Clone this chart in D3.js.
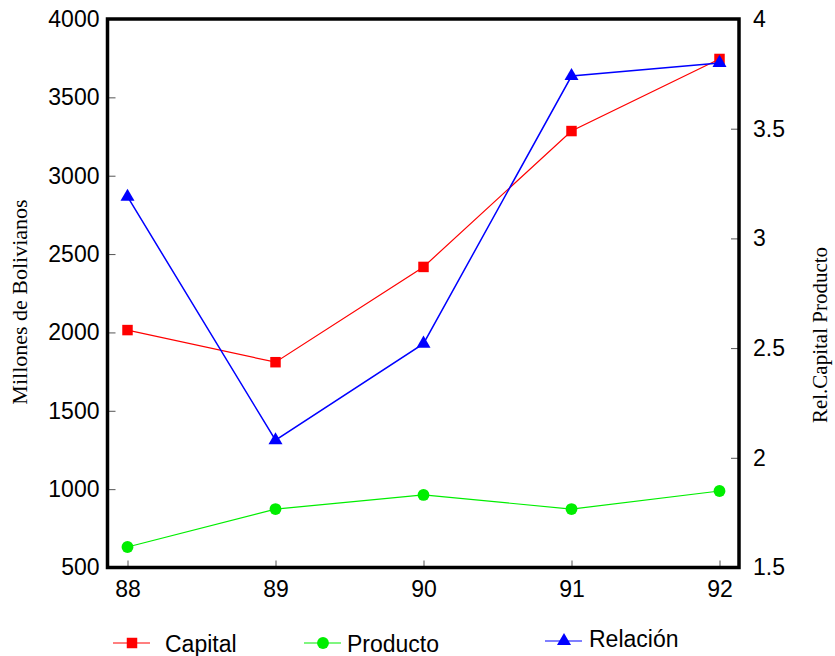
<!DOCTYPE html>
<html><head><meta charset="utf-8">
<script src="https://cdn.jsdelivr.net/npm/d3@7"></script>
<style>body{margin:0;background:#fff}svg{display:block}</style>
</head><body>
<script>
const years = ["88","89","90","91","92"];
const capital = [2015, 1810, 2418, 3285, 3745];
const producto = [631, 873, 963, 873, 988];
const relacion = [3.19, 2.08, 2.52, 3.74, 3.80];
const leftTicks = [500,1000,1500,2000,2500,3000,3500,4000];
const rightTicks = [1.5,2,2.5,3,3.5,4];

const W=835,H=656;
const svg=d3.select("body").append("svg").attr("width",W).attr("height",H);
const fL=107.5,fR=739,fT=19,fB=567.5;
const x=d3.scalePoint().domain(years).range([127.5,719.5]);
const yL=d3.scaleLinear().domain([500,4000]).range([fB,fT]);
const yR=d3.scaleLinear().domain([1.5,4]).range([fB,fT]);
const font="Liberation Sans, Arial, sans-serif";

const gl=svg.append("g").attr("transform",`translate(${fL},0)`)
 .call(d3.axisLeft(yL).tickValues(leftTicks).tickFormat(d=>String(d)).tickSizeInner(-8).tickSizeOuter(0).tickPadding(8));
const gr=svg.append("g").attr("transform",`translate(${fR},0)`)
 .call(d3.axisRight(yR).tickValues(rightTicks).tickFormat(d=>String(d)).tickSizeInner(-8).tickSizeOuter(0).tickPadding(14));
const gx=svg.append("g").attr("transform",`translate(0,${fB})`)
 .call(d3.axisBottom(x).tickSizeInner(-7).tickSizeOuter(0).tickPadding(13));
[gl,gr,gx].forEach(g=>{
  g.select(".domain").remove();
  g.selectAll(".tick line").attr("stroke","#555").attr("stroke-width",1);
  g.selectAll("text").attr("font-family",font).attr("font-size",23).attr("fill","#000");
});
gl.selectAll(".tick").filter(d=>d===500||d===4000).select("line").remove();
gr.selectAll(".tick").filter(d=>d===1.5||d===4).select("line").remove();

svg.append("rect").attr("x",fL).attr("y",fT).attr("width",fR-fL).attr("height",fB-fT)
 .attr("fill","none").attr("stroke","#000").attr("stroke-width",3.5);

function series(vals,scale,color,sym,size,sw){
  const line=d3.line().x((d,i)=>x(years[i])).y(d=>scale(d));
  svg.append("path").datum(vals).attr("d",line).attr("fill","none").attr("stroke",color).attr("stroke-width",sw);
  svg.selectAll(null).data(vals).enter().append("path")
   .attr("transform",(d,i)=>`translate(${x(years[i])},${scale(d)})`)
   .attr("d",d3.symbol().type(sym).size(size)).attr("fill",color);
}
series(capital,yL,"#ff0000",d3.symbolSquare,110,1.2);
series(producto,yL,"#00ee00",d3.symbolCircle,110,1.2);
series(relacion,yR,"#0000ff",d3.symbolTriangle,85,1.5);

svg.append("text").attr("transform","translate(27,302) rotate(-90)").attr("text-anchor","middle")
 .attr("font-family","Liberation Serif, Times New Roman, serif").attr("font-size",22).text("Millones de Bolivianos");
svg.append("text").attr("transform","translate(827,335) rotate(-90)").attr("text-anchor","middle")
 .attr("font-family","Liberation Serif, Times New Roman, serif").attr("font-size",21).text("Rel.Capital Producto");

const legend=[
 {name:"Capital",color:"#ff0000",sym:d3.symbolSquare,x:113,y:643,size:110,tx:52,ty:1},
 {name:"Producto",color:"#00ee00",sym:d3.symbolCircle,x:304,y:643,size:110,tx:43,ty:1},
 {name:"Relación",color:"#0000ff",sym:d3.symbolTriangle,x:545,y:641,size:85,tx:44,ty:-2}
];
const lg=svg.selectAll(".lg").data(legend).enter().append("g").attr("transform",d=>`translate(${d.x},${d.y})`);
lg.append("line").attr("x1",0).attr("x2",37).attr("stroke",d=>d.color).attr("stroke-width",1.2);
lg.append("path").attr("transform","translate(19,0)").attr("d",d=>d3.symbol().type(d.sym).size(d.size)()).attr("fill",d=>d.color);
lg.append("text").attr("x",d=>d.tx).attr("y",d=>d.ty).attr("dy","0.35em")
 .attr("font-family",font).attr("font-size",23).text(d=>d.name);
</script>
</body></html>
